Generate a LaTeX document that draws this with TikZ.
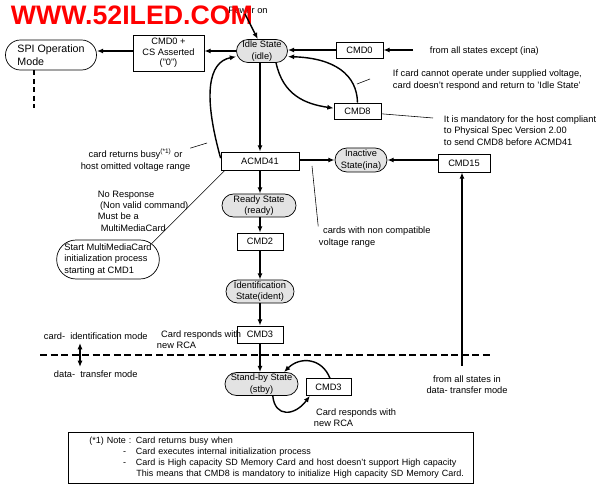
\documentclass[tikz,border=0pt]{standalone}
\usepackage{fontspec}
\setmainfont{Liberation Sans}
\usepackage{tikz}
\usetikzlibrary{arrows.meta,positioning,shapes.misc}
\definecolor{markred}{rgb}{1,0,0}
\definecolor{stategray}{rgb}{0.89,0.89,0.89}

\begin{document}
\begin{tikzpicture}[x=0.025cm,y=-0.025cm,font=\fontsize{6.6}{8}\selectfont,
    state/.style={draw,rounded rectangle,fill=stategray,align=center,inner sep=0pt,line width=0.5pt},
    start/.style={draw,rounded rectangle,fill=white,align=left,inner sep=0pt,line width=0.5pt},
    cmd/.style={draw,rectangle,fill=white,align=center,inner sep=0pt,line width=0.5pt},
    flow/.style={-{Latex[length=4.5pt,width=3.6pt]},line width=1pt},
    remark/.style={line width=0.4pt}]
  \useasboundingbox (0,0) rectangle (600,485);
  % states and commands
  \node[state,minimum width=1.275cm,minimum height=0.575cm] (idle) at (262,51) {Idle State\\(idle)};
  \node[start,minimum width=2.275cm,minimum height=0.75cm,font=\fontsize{7.6}{9}\selectfont] (spi) at (51,55) {SPI Operation\\Mode};
  \node[cmd,minimum width=1.775cm,minimum height=0.9cm,font=\fontsize{6.6}{7.6}\selectfont] (cmdcs) at (168.5,53) {CMD0 +\\CS Asserted\\("0")};
  \node[cmd,minimum width=1.175cm,minimum height=0.4cm] (cmd0) at (359.5,50) {CMD0};
  \node[cmd,minimum width=1.175cm,minimum height=0.4cm] (cmd8) at (357.5,111) {CMD8};
  \node[cmd,minimum width=1.95cm,minimum height=0.45cm] (acmd) at (260,161) {ACMD41};
  \node[state,minimum width=1.3cm,minimum height=0.6cm] (ina) at (361,160) {Inactive\\State(ina)};
  \node[cmd,minimum width=1.3cm,minimum height=0.45cm] (cmd15) at (464,163) {CMD15};
  \node[state,minimum width=1.85cm,minimum height=0.575cm] (ready) at (259,205.5) {Ready State\\(ready)};
  \node[cmd,minimum width=1.15cm,minimum height=0.425cm] (cmd2) at (260,241.5) {CMD2};
  \node[state,minimum width=1.7cm,minimum height=0.575cm] (ident) at (260,291.5) {Identification\\State(ident)};
  \node[cmd,minimum width=1.15cm,minimum height=0.425cm] (cmd3a) at (260,334.5) {CMD3};
  \node[state,minimum width=1.825cm,minimum height=0.575cm] (stby) at (261.5,384) {Stand-by State\\(stby)};
  \node[cmd,minimum width=1.125cm,minimum height=0.425cm] (cmd3b) at (328.5,387) {CMD3};
  \node[start,minimum width=2.55cm,minimum height=0.975cm] (mmc) at (108,259.5) {Start MultiMediaCard\\initialization process\\starting at CMD1};
  % texts
  \node (power) at (248,10) {Power on};
  \node[anchor=west,text=markred,font=\fontsize{19}{20}\bfseries] (mark) at (6,15) {WWW.52ILED.COM};
  \node[anchor=west] (fromall) at (425,51) {from all states except (ina)};
  \node[anchor=west,align=left] (nocard) at (388,80) {If card cannot operate under supplied voltage,\\card doesn't respond and return to 'Idle State'};
  \node[anchor=west,align=left] (mandatory) at (439,130.5) {It is mandatory for the host compliant\\to Physical Spec Version 2.00\\to send CMD8 before ACMD41};
  \node[align=center] (busy) at (135.5,160) {card returns busy\textsuperscript{(*1)} or\\host omitted voltage range};
  \node[anchor=west,align=left] (noresp) at (93,211) {No Response\\\hspace*{1.5pt}(Non valid command)\\Must be a\\\hspace*{2pt}MultiMediaCard};
  \node[anchor=west,align=left] (noncomp) at (314,237) {\hspace*{3pt}cards with non compatible\\voltage range};
  \node[anchor=west,align=left] (rcaa) at (152,339.5) {\hspace*{3pt}Card responds with\\new RCA};
  \node[anchor=west] (idmode) at (39,336) {card- \ identification mode};
  \node[anchor=west] (dtmode) at (49,374) {data- \ transfer mode};
  \node[anchor=west,align=left] (rcab) at (309,417.5) {\hspace*{1.5pt}Card responds with\\new RCA};
  \node[align=center] (fromdt) at (467,385) {from all states in\\data- transfer mode};
  \node[draw,line width=0.5pt,anchor=north west,text width=10.025cm,inner xsep=0.05cm,minimum height=1.275cm,align=left,font=\fontsize{6.4}{7.8}\selectfont] (note) at (68,432)
    {\hspace*{13.5pt}(*1) Note : Card returns busy when\\
     \hspace*{37.5pt}-\hspace*{7pt}Card executes internal initialization process\\
     \hspace*{37.5pt}-\hspace*{7pt}Card is High capacity SD Memory Card and host doesn't support High capacity\\
     \hspace*{46.9pt}This means that CMD8 is mandatory to initialize High capacity SD Memory Card.};
  % free ends
  \coordinate (pwr) at (245,14);
  \coordinate (allin) at (413,50);
  \coordinate (spiend) at (34,108);
  \coordinate (dtin) at (462,366);
  \coordinate (sepl) at (40,355);
  \coordinate (sepr) at (492,355);
  \coordinate (mtop) at (80,343);
  \coordinate (mbot) at (80,367);
  % connectors
  \draw[flow] (pwr) -- ([xshift=-3pt]idle.north);
  \draw[flow] (idle.west) -- (idle.west -| cmdcs.east);
  \draw[flow] (cmdcs.west |- idle.west) -- (spi.east |- idle.west);
  \draw[line width=1pt,dash pattern=on 3.5pt off 2.5pt] (spi.south -| spiend) -- (spiend);
  \draw[flow] (cmd0.west) -- (cmd0.west -| idle.east);
  \draw[flow] (allin) -- (cmd0.east);
  \draw[flow] ([xshift=10pt]idle.south) .. controls (283,95) and (305,104) .. ([yshift=2pt]cmd8.west);
  \draw[flow] (cmd8.north) .. controls (357,75) and (335,58) .. ([yshift=-4pt]idle.east);
  \draw[flow] (acmd.north |- idle.south) -- (acmd.north);
  \draw[flow] ([yshift=2pt]acmd.west) .. controls (203,95) and (208,62) .. ([yshift=-4pt]idle.west);
  \draw[flow] (acmd.east |- ina.west) -- (ina.west);
  \draw[flow] (cmd15.west |- ina.east) -- (ina.east);
  \draw[flow] (dtin) -- (dtin |- cmd15.south);
  \foreach \a/\b in {acmd/ready,ready/cmd2,cmd2/ident,ident/cmd3a,cmd3a/stby}
    \draw[flow] (\a.south -| 260,0) -- (\b.north -| 260,0);
  \draw[flow] ([xshift=1pt]cmd3b.north) .. controls (322,358) and (300,356) .. ([xshift=16pt]stby.north);
  \draw[flow] ([xshift=8pt]stby.south) .. controls (275,418) and (295,416) .. ([xshift=3pt]cmd3b.south west);
  \draw[line width=1.1pt,dash pattern=on 5pt off 2.5pt] (sepl) -- (sepr);
  \draw[{Latex[length=4.5pt,width=3.6pt]}-{Latex[length=4.5pt,width=3.6pt]},line width=1pt] (mtop) -- (mbot);
  % remarks
  \draw[remark] ([xshift=-3.5pt,yshift=-3pt]busy.north east) -- (207,143);
  \draw[remark] ([xshift=3pt]acmd.south west) -- (mmc.20);
  \draw[remark] (312,166) -- ([xshift=3pt,yshift=-3pt]noncomp.north west);
  \draw[remark] (357,84) -- (370,79);
  \draw[remark] ([yshift=-2pt]cmd8.east) -- (433,118);
\end{tikzpicture}
\end{document}
